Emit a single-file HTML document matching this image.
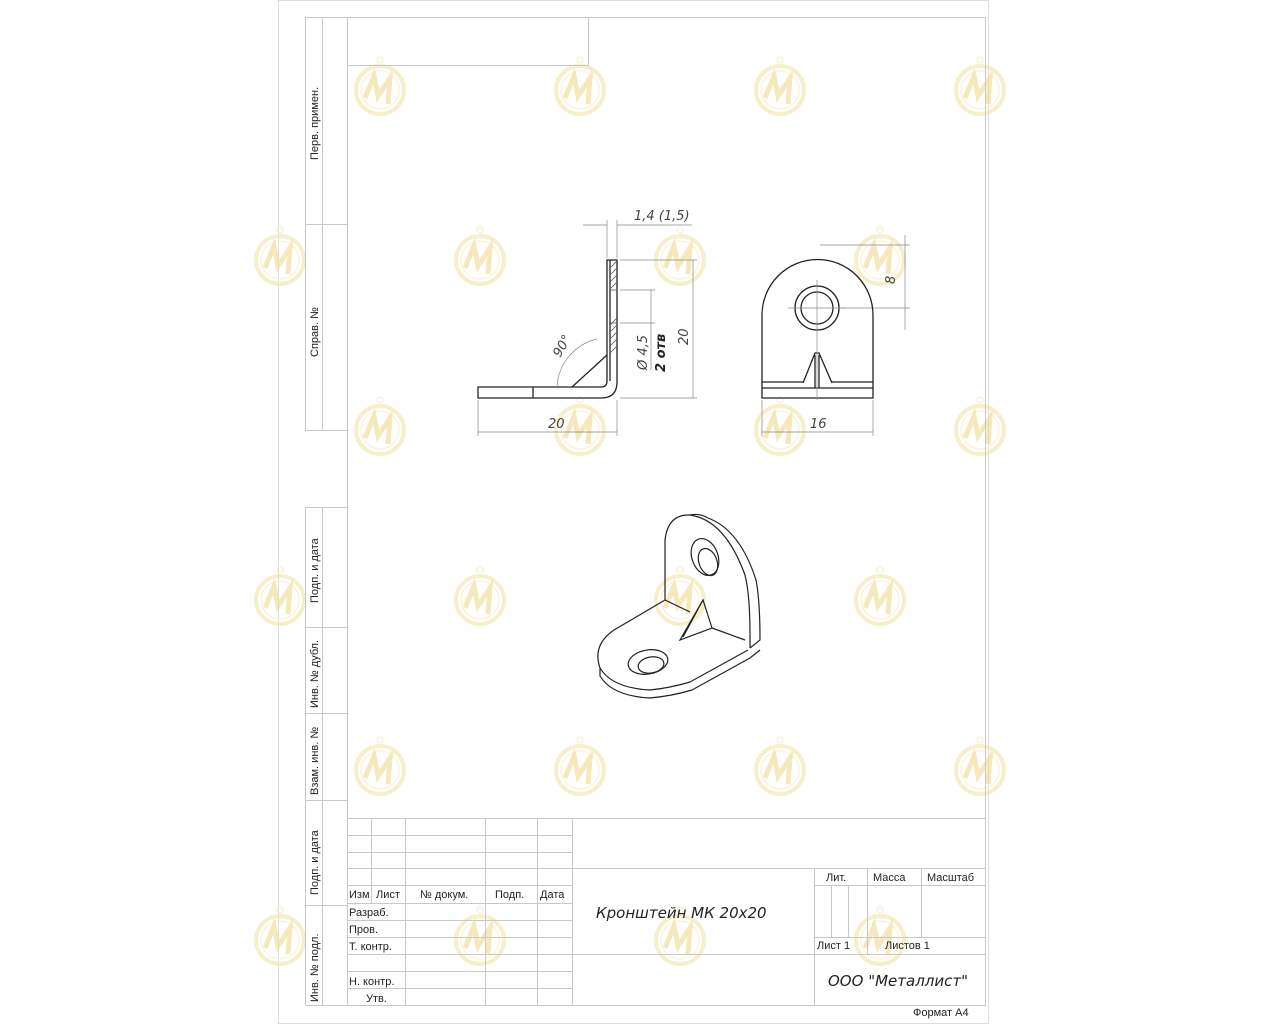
<!DOCTYPE html>
<html><head><meta charset="utf-8"><style>
html,body{margin:0;padding:0;background:#fff;}
svg{display:block;}
text{font-family:"Liberation Sans",sans-serif;}
.it{font-family:"DejaVu Sans","Liberation Sans",sans-serif;font-style:italic;}
</style></head><body>
<svg width="1280" height="1024" viewBox="0 0 1280 1024" xmlns="http://www.w3.org/2000/svg">
<defs>
<g id="wm" opacity="0.6">
<circle cx="0" cy="0" r="24" fill="none" stroke="#f3e6a8" stroke-width="4"/>
<circle cx="0" cy="0" r="19" fill="none" stroke="#f8efc6" stroke-width="1.5"/>
<path d="M-15 8 L-6 -14 L-2 6 L10 -12 L8 14" fill="none" stroke="#f0dc90" stroke-width="5"/>
<circle cx="0" cy="-30" r="3" fill="none" stroke="#f3e6a8" stroke-width="1"/>
</g>
</defs>
<rect x="278.5" y="0.5" width="710" height="1023" fill="#fff" stroke="#ddd"/>
<g>
<use href="#wm" x="380" y="90"/><use href="#wm" x="580" y="90"/><use href="#wm" x="780" y="90"/><use href="#wm" x="980" y="90"/>
<use href="#wm" x="280" y="260"/><use href="#wm" x="480" y="260"/><use href="#wm" x="680" y="260"/><use href="#wm" x="880" y="260"/>
<use href="#wm" x="380" y="430"/><use href="#wm" x="580" y="430"/><use href="#wm" x="780" y="430"/><use href="#wm" x="980" y="430"/>
<use href="#wm" x="280" y="600"/><use href="#wm" x="480" y="600"/><use href="#wm" x="680" y="600"/><use href="#wm" x="880" y="600"/>
<use href="#wm" x="380" y="770"/><use href="#wm" x="580" y="770"/><use href="#wm" x="780" y="770"/><use href="#wm" x="980" y="770"/>
<use href="#wm" x="280" y="940"/><use href="#wm" x="480" y="940"/><use href="#wm" x="680" y="940"/><use href="#wm" x="880" y="940"/>
</g>
<g fill="none" stroke="#c8c8c8" stroke-width="1">
<rect x="347.5" y="17.5" width="638" height="988"/>
<rect x="347.5" y="17.5" width="241" height="48"/>
<rect x="305.5" y="17.5" width="42" height="413"/>
<line x1="322.5" y1="17" x2="322.5" y2="430"/>
<line x1="305" y1="224.5" x2="347" y2="224.5"/>
<rect x="305.5" y="507.5" width="42" height="498"/>
<line x1="322.5" y1="507" x2="322.5" y2="1005"/>
<line x1="305" y1="627.5" x2="347" y2="627.5"/>
<line x1="305" y1="713.5" x2="347" y2="713.5"/>
<line x1="305" y1="800.5" x2="347" y2="800.5"/>
<line x1="305" y1="905.5" x2="347" y2="905.5"/>
<line x1="347" y1="818.5" x2="985" y2="818.5"/>
<line x1="347" y1="835.5" x2="572" y2="835.5"/>
<line x1="347" y1="852.5" x2="572" y2="852.5"/>
<line x1="347" y1="868.5" x2="985" y2="868.5"/>
<line x1="347" y1="885.5" x2="572" y2="885.5"/>
<line x1="347" y1="903.5" x2="572" y2="903.5"/>
<line x1="347" y1="920.5" x2="572" y2="920.5"/>
<line x1="347" y1="937.5" x2="572" y2="937.5"/>
<line x1="347" y1="954.5" x2="985" y2="954.5"/>
<line x1="347" y1="971.5" x2="572" y2="971.5"/>
<line x1="347" y1="988.5" x2="572" y2="988.5"/>
<line x1="371.5" y1="818" x2="371.5" y2="903"/>
<line x1="405.5" y1="818" x2="405.5" y2="1005"/>
<line x1="485.5" y1="818" x2="485.5" y2="1005"/>
<line x1="537.5" y1="818" x2="537.5" y2="1005"/>
<line x1="572.5" y1="818" x2="572.5" y2="1005"/>
<line x1="814.5" y1="868" x2="814.5" y2="1005"/>
<line x1="814" y1="885.5" x2="985" y2="885.5"/>
<line x1="814" y1="937.5" x2="985" y2="937.5"/>
<line x1="831.5" y1="885" x2="831.5" y2="937"/>
<line x1="848.5" y1="885" x2="848.5" y2="937"/>
<line x1="867.5" y1="868" x2="867.5" y2="954"/>
<line x1="921.5" y1="868" x2="921.5" y2="937"/>
</g>
<g font-size="11" fill="#222">
<text transform="translate(318,160) rotate(-90)">Перв. примен.</text>
<text transform="translate(318,357) rotate(-90)">Справ. №</text>
<text transform="translate(318,603) rotate(-90)">Подп. и дата</text>
<text transform="translate(318,708) rotate(-90)">Инв. № дубл.</text>
<text transform="translate(318,795) rotate(-90)">Взам. инв. №</text>
<text transform="translate(318,895) rotate(-90)">Подп. и дата</text>
<text transform="translate(318,1002) rotate(-90)">Инв. № подл.</text>
<text x="349" y="898">Изм</text><text x="376" y="898">Лист</text><text x="420" y="898">№ докум.</text>
<text x="495" y="898">Подп.</text><text x="540" y="898">Дата</text>
<text x="349" y="916">Разраб.</text><text x="349" y="933">Пров.</text><text x="349" y="950">Т. контр.</text>
<text x="349" y="985">Н. контр.</text><text x="366" y="1002">Утв.</text>
<text x="826" y="881">Лит.</text><text x="873" y="881">Масса</text><text x="927" y="881">Масштаб</text>
<text x="817" y="949">Лист 1</text><text x="885" y="949">Листов 1</text>
<text x="913" y="1016">Формат А4</text>
</g>
<text class="it" x="596" y="918" font-size="15" fill="#222">Кронштейн МК 20х20</text>
<text class="it" x="828" y="986" font-size="15" fill="#222">ООО "Металлист"</text>

<g fill="none" stroke="#222" stroke-width="1.3">
<path d="M607 260 H617 V382 Q617 398 601 398 H478 V387 H601 Q607 387 607 381 Z"/>
<line x1="533" y1="387" x2="533" y2="398"/>
<path d="M572 387 L607 355"/>
<line x1="610" y1="260" x2="610" y2="381"/>
</g>
<g stroke="#555" stroke-width="0.8" fill="none">
<path d="M610 268 L617 261 M610 275 L617 268 M610 282 L617 275 M610 289 L617 282"/>
<path d="M610 325 L617 318 M610 332 L617 325 M610 339 L617 332 M610 346 L617 339 M610 353 L617 346"/>
<line x1="610" y1="290" x2="617" y2="290"/><line x1="610" y1="323" x2="617" y2="323"/>
</g>
<g stroke="#888" stroke-width="0.7" fill="none">
<line x1="607" y1="220" x2="607" y2="258"/><line x1="617" y1="220" x2="617" y2="258"/>
<line x1="583" y1="225" x2="607" y2="225"/><line x1="617" y1="225" x2="692" y2="225"/>
<line x1="620" y1="260" x2="697" y2="260"/><line x1="620" y1="398" x2="697" y2="398"/>
<line x1="693" y1="260" x2="693" y2="398"/>
<line x1="620" y1="290" x2="655" y2="290"/><line x1="620" y1="323" x2="655" y2="323"/>
<line x1="651" y1="290" x2="651" y2="370"/>
<line x1="478" y1="400" x2="478" y2="436"/><line x1="617" y1="400" x2="617" y2="436"/>
<line x1="478" y1="432" x2="617" y2="432"/>
<path d="M557 387 A52 52 0 0 1 597 339"/>
<line x1="762" y1="400" x2="762" y2="436"/><line x1="873" y1="400" x2="873" y2="436"/>
<line x1="762" y1="432" x2="873" y2="432"/>
<line x1="820" y1="245" x2="910" y2="245"/><line x1="840" y1="308" x2="910" y2="308"/>
<line x1="905" y1="235" x2="905" y2="330"/>
</g>
<g fill="#444" font-size="13">
<text class="it" x="634" y="220">1,4  (1,5)</text>
<text class="it" transform="translate(688,345) rotate(-90)">20</text>
<text class="it" transform="translate(647,370) rotate(-90)">Ø 4,5</text>
<text class="it" transform="translate(665,372) rotate(-90)" font-weight="bold" fill="#222">2 отв</text>
<text class="it" transform="translate(560,358) rotate(-60)">90°</text>
<text class="it" x="548" y="428">20</text>
<text class="it" x="810" y="428">16</text>
<text class="it" transform="translate(895,284) rotate(-90)">8</text>
</g>
<g fill="none" stroke="#222" stroke-width="1.3">
<path d="M762 398 V315 A55.5 55.5 0 0 1 873 315 V398 Z"/>
<line x1="762" y1="382" x2="803" y2="382"/><line x1="832" y1="382" x2="873" y2="382"/>
<line x1="762" y1="388" x2="873" y2="388"/>
<circle cx="817" cy="308" r="22"/><circle cx="817" cy="308" r="16"/>
<path d="M803 383 L815 353 H819 L832 383"/>
<line x1="815" y1="355" x2="815" y2="388"/><line x1="819" y1="355" x2="819" y2="388"/>
</g>
<g stroke="#888" stroke-width="0.7">
<line x1="817" y1="280" x2="817" y2="400"/><line x1="788" y1="308" x2="846" y2="308"/>
</g>
<g fill="none" stroke="#222" stroke-width="1.2">
<path d="M665 600 V540 Q668 514 690 515 Q725 520 745 575 Q750 595 750 635 V648"/>
<path d="M690 515 Q700 513 708 518 Q740 530 756 580 Q760 600 760 640 L750 648"/>
<path d="M665 600 L614 630 Q592 645 600 668 Q612 688 650 690 Q670 688 690 682 L748 650"/>
<path d="M600 668 V676 Q612 696 650 698 Q672 696 692 690 L750 658 L760 650"/>
<ellipse cx="705" cy="557" rx="13" ry="19" transform="rotate(-20 705 557)"/>
<ellipse cx="708" cy="562" rx="9" ry="14" transform="rotate(-20 708 562)"/>
<ellipse cx="648" cy="662" rx="20" ry="12" transform="rotate(-10 648 662)"/>
<ellipse cx="651" cy="665" rx="13" ry="8" transform="rotate(-10 651 665)"/>
<path d="M680 640 L703 600 L712 628 Z"/>
<path d="M683 637 L703 600"/>
<path d="M665 600 L690 612 M712 628 L745 640"/>
</g>
</svg>
</body></html>
